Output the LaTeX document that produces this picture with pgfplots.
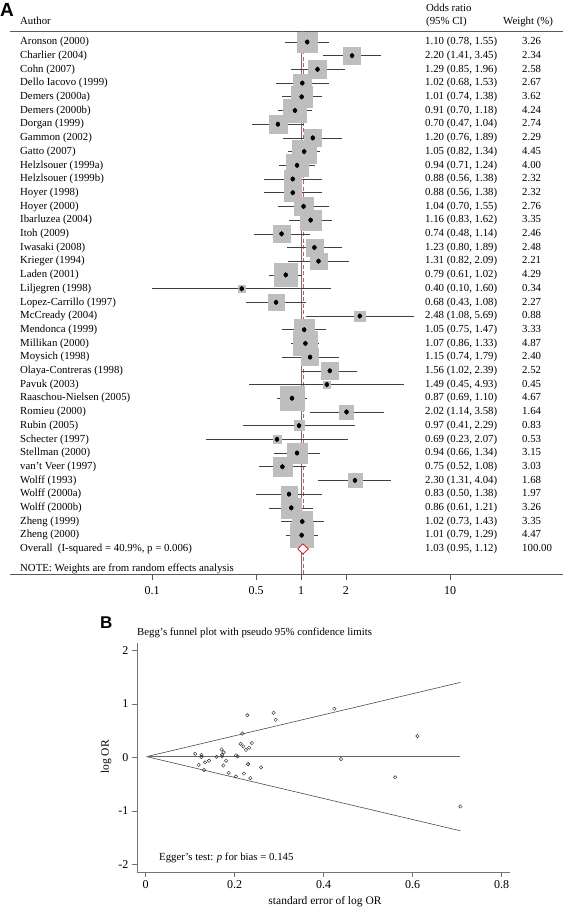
\documentclass[border=0pt]{standalone}
\usepackage{pgfplots}
\pgfplotsset{compat=1.18}
\usepackage{pgfplotstable}
\usepackage{fontspec}
\setmainfont{Liberation Serif}
\newfontfamily\lsans{Liberation Sans}
\definecolor{sqgray}{RGB}{190,190,190}
\definecolor{ovred}{RGB}{215,40,40}
\definecolor{dashred}{RGB}{200,90,90}
\newcommand\ft{\fontsize{10.8bp}{12bp}\selectfont}

\pgfplotstableread{
r or lo hi w
1 1.10 0.78 1.55 3.26
2 2.20 1.41 3.45 2.34
3 1.29 0.85 1.96 2.58
4 1.02 0.68 1.53 2.67
5 1.01 0.74 1.38 3.62
6 0.91 0.70 1.18 4.24
7 0.70 0.47 1.04 2.74
8 1.20 0.76 1.89 2.29
9 1.05 0.82 1.34 4.45
10 0.94 0.71 1.24 4.00
11 0.88 0.56 1.38 2.32
12 0.88 0.56 1.38 2.32
13 1.04 0.70 1.55 2.76
14 1.16 0.83 1.62 3.35
15 0.74 0.48 1.14 2.46
16 1.23 0.80 1.89 2.48
17 1.31 0.82 2.09 2.21
18 0.79 0.61 1.02 4.29
19 0.40 0.10 1.60 0.34
20 0.68 0.43 1.08 2.27
21 2.48 1.08 5.69 0.88
22 1.05 0.75 1.47 3.33
23 1.07 0.86 1.33 4.87
24 1.15 0.74 1.79 2.40
25 1.56 1.02 2.39 2.52
26 1.49 0.45 4.93 0.45
27 0.87 0.69 1.10 4.67
28 2.02 1.14 3.58 1.64
29 0.97 0.41 2.29 0.83
30 0.69 0.23 2.07 0.53
31 0.94 0.66 1.34 3.15
32 0.75 0.52 1.08 3.03
33 2.30 1.31 4.04 1.68
34 0.83 0.50 1.38 1.97
35 0.86 0.61 1.21 3.26
36 1.02 0.73 1.43 3.35
37 1.01 0.79 1.29 4.47
}\forestdata

\pgfplotstableread{
se lor
0.1752 0.0953
0.2283 0.7885
0.2131 0.2546
0.2069 0.0198
0.1590 0.0100
0.1332 -0.0943
0.2026 -0.3567
0.2324 0.1823
0.1253 0.0488
0.1422 -0.0619
0.2301 -0.1278
0.2301 -0.1278
0.2028 0.0392
0.1706 0.1484
0.2207 -0.3011
0.2193 0.2070
0.2387 0.2700
0.1311 -0.2357
0.7073 -0.9163
0.2349 -0.3857
0.4239 0.9083
0.1717 0.0488
0.1112 0.0677
0.2253 0.1398
0.2172 0.4447
0.6107 0.3988
0.1190 -0.1393
0.2919 0.7031
0.4388 -0.0305
0.5605 -0.3711
0.1807 -0.0619
0.1865 -0.2877
0.2873 0.8329
0.2590 -0.1863
0.1747 -0.1508
0.1715 0.0198
0.1251 0.0100
}\funneldata

\begin{document}
\begin{tikzpicture}
\path[use as bounding box] (0,0) rectangle (566bp,908bp);

% ---------------- Panel A: forest plot ----------------
\begin{axis}[
  at={(10bp,334bp)}, anchor=south west,
  scale only axis, width=553bp, height=543bp,
  xmode=log, log basis x=10,
  xmin=0.01114, xmax=57.3,
  ymin=-39.83, ymax=-0.197,
  clip=false,
  axis x line=bottom, axis y line=none,
  axis line style={-, black!65, line width=0.6bp},
  xtick={0.1,0.5,1,2,10}, xticklabels={0.1,0.5,1,2,10},
  xminorticks=false, ytick=\empty,
  tick align=outside, major tick length=6bp,
  tick style={black!65, line width=0.6bp},
  xticklabel style={font=\fontsize{12bp}{12bp}\selectfont, yshift=-3bp},
]
% header rule
\addplot[black!65, line width=0.6bp] coordinates {(0.01114,-0.197) (57.3,-0.197)};
% null line
\addplot[black!55, line width=0.7bp] coordinates {(1,-0.197) (1,-39.83)};
% overall dashed line
\addplot[dashred, line width=0.7bp, dash pattern=on 4bp off 2.5bp] coordinates {(1.03,-0.197) (1.03,-39.83)};
% weight squares
\addplot[scatter, only marks, mark=square*,
  scatter/use mapped color={draw=sqgray, fill=sqgray},
  visualization depends on={5.54*sqrt(\thisrow{w}) \as \msz},
  scatter/@pre marker code/.append style={/tikz/mark size=\msz}]
  table[x=or, y expr=-\thisrow{r}] {\forestdata};
% confidence intervals
\addplot[only marks, mark=none,
  error bars/.cd, x dir=both, x explicit,
  error mark=none,
  error bar style={black!75, line width=0.6bp, solid}]
  table[x=or, y expr=-\thisrow{r},
        x error plus expr=\thisrow{hi}-\thisrow{or},
        x error minus expr=\thisrow{or}-\thisrow{lo}] {\forestdata};
% point estimates
\addplot[only marks, mark=diamond*, mark size=2.4bp, black]
  table[x=or, y expr=-\thisrow{r}] {\forestdata};
\end{axis}

% overlay axis (same geometry): overall diamond on top of the squares
\begin{axis}[
  at={(10bp,334bp)}, anchor=south west,
  scale only axis, width=553bp, height=543bp,
  xmode=log, log basis x=10,
  xmin=0.01114, xmax=57.3,
  ymin=-39.83, ymax=-0.197,
  clip=false, hide axis]
\addplot[ovred, fill=white, line width=0.9bp, line join=miter]
  coordinates {(0.95,-38) (1.03,-37.635) (1.12,-38) (1.03,-38.365) (0.95,-38)};
\end{axis}

% ---------------- Panel B: funnel plot ----------------
\begin{axis}[
  at={(137bp,36bp)}, anchor=south west,
  scale only axis, width=373bp, height=229bp,
  xmin=-0.0196, xmax=0.8187,
  ymin=-2.14, ymax=2.137,
  axis x line=bottom, axis y line=left,
  axis line style={-, black!55, line width=0.6bp},
  xtick={0,0.2,0.4,0.6,0.8}, xticklabels={0,0.2,0.4,0.6,0.8},
  ytick={-2,-1,0,1,2}, yticklabels={-2,-1,0,1,2},
  tick align=outside, major tick length=5bp,
  tick style={black!55, line width=0.6bp},
  ticklabel style={font=\fontsize{12bp}{12bp}\selectfont},
  clip=false,
]
\addplot[black!70, line width=0.6bp] coordinates {(0.002,0.015) (0.7073,1.401)};
\addplot[black!70, line width=0.6bp] coordinates {(0.002,0.015) (0.7073,-1.371)};
\addplot[black!60, line width=0.6bp] coordinates {(0.002,0.015) (0.7073,0.015)};
\addplot[only marks, mark=o, mark size=1.7bp, black!80, mark options={line width=0.45bp}]
  table[x=se, y=lor] {\funneldata};
\end{axis}

% ---------------- texts ----------------
\begin{scope}[x=1bp, y=1bp]
\node[anchor=north west, inner sep=0pt, font=\lsans\bfseries\fontsize{19bp}{19bp}\selectfont] at (0,905) {A};
\node[anchor=west, inner sep=0pt, font=\ft, text height=8bp, text depth=2.5bp] at (20,886) {Author};
\node[anchor=west, inner sep=0pt, font=\ft, text height=8bp, text depth=2.5bp] at (426,899) {Odds ratio};
\node[anchor=west, inner sep=0pt, font=\ft, text height=8bp, text depth=2.5bp] at (426,886) {(95\% CI)};
\node[anchor=west, inner sep=0pt, font=\ft, text height=8bp, text depth=2.5bp] at (503,886) {Weight (\%)};

\foreach \nm [count=\i] in {{Aronson (2000)},{Charlier (2004)},{Cohn (2007)},{Dello Iacovo (1999)},{Demers (2000a)},{Demers (2000b)},{Dorgan (1999)},{Gammon (2002)},{Gatto (2007)},{Helzlsouer (1999a)},{Helzlsouer (1999b)},{Hoyer (1998)},{Hoyer (2000)},{Ibarluzea (2004)},{Itoh (2009)},{Iwasaki (2008)},{Krieger (1994)},{Laden (2001)},{Liljegren (1998)},{Lopez-Carrillo (1997)},{McCready (2004)},{Mendonca (1999)},{Millikan (2000)},{Moysich (1998)},{Olaya-Contreras (1998)},{Pavuk (2003)},{Raaschou-Nielsen (2005)},{Romieu (2000)},{Rubin (2005)},{Schecter (1997)},{Stellman (2000)},{van't Veer (1997)},{Wolff (1993)},{Wolff (2000a)},{Wolff (2000b)},{Zheng (1999)},{Zheng (2000)},{Overall\ \ (I-squared = 40.9\%, p = 0.006)}}
  \node[anchor=west, inner sep=0pt, font=\ft, text height=8bp, text depth=2.5bp] at (20,{866-(\i-1)*13.7}) {\nm};

\foreach \ci [count=\i] in {{1.10 (0.78, 1.55)},{2.20 (1.41, 3.45)},{1.29 (0.85, 1.96)},{1.02 (0.68, 1.53)},{1.01 (0.74, 1.38)},{0.91 (0.70, 1.18)},{0.70 (0.47, 1.04)},{1.20 (0.76, 1.89)},{1.05 (0.82, 1.34)},{0.94 (0.71, 1.24)},{0.88 (0.56, 1.38)},{0.88 (0.56, 1.38)},{1.04 (0.70, 1.55)},{1.16 (0.83, 1.62)},{0.74 (0.48, 1.14)},{1.23 (0.80, 1.89)},{1.31 (0.82, 2.09)},{0.79 (0.61, 1.02)},{0.40 (0.10, 1.60)},{0.68 (0.43, 1.08)},{2.48 (1.08, 5.69)},{1.05 (0.75, 1.47)},{1.07 (0.86, 1.33)},{1.15 (0.74, 1.79)},{1.56 (1.02, 2.39)},{1.49 (0.45, 4.93)},{0.87 (0.69, 1.10)},{2.02 (1.14, 3.58)},{0.97 (0.41, 2.29)},{0.69 (0.23, 2.07)},{0.94 (0.66, 1.34)},{0.75 (0.52, 1.08)},{2.30 (1.31, 4.04)},{0.83 (0.50, 1.38)},{0.86 (0.61, 1.21)},{1.02 (0.73, 1.43)},{1.01 (0.79, 1.29)},{1.03 (0.95, 1.12)}}
  \node[anchor=west, inner sep=0pt, font=\ft, text height=8bp, text depth=2.5bp] at (425,{866-(\i-1)*13.7}) {\ci};

\foreach \wt [count=\i] in {3.26,2.34,2.58,2.67,3.62,4.24,2.74,2.29,4.45,4.00,2.32,2.32,2.76,3.35,2.46,2.48,2.21,4.29,0.34,2.27,0.88,3.33,4.87,2.40,2.52,0.45,4.67,1.64,0.83,0.53,3.15,3.03,1.68,1.97,3.26,3.35,4.47,100.00}
  \node[anchor=west, inner sep=0pt, font=\ft, text height=8bp, text depth=2.5bp] at (522,{866-(\i-1)*13.7}) {\wt};

\node[anchor=west, inner sep=0pt, font=\ft, text height=8bp, text depth=2.5bp] at (20,339) {NOTE: Weights are from random effects analysis};

% panel B texts
\node[anchor=north west, inner sep=0pt, font=\lsans\bfseries\fontsize{17bp}{17bp}\selectfont] at (100,291) {B};
\node[anchor=west, inner sep=0pt, font=\ft, text height=8bp, text depth=2.5bp] at (137,275) {Begg's funnel plot with pseudo 95\% confidence limits};
\node[anchor=west, inner sep=0pt, font=\ft, text height=8bp, text depth=2.5bp] at (159,50) {Egger's test: \textit{p} for bias = 0.145};
\node[rotate=90, inner sep=0pt, font=\fontsize{11.5bp}{12bp}\selectfont, text height=8bp, text depth=2.5bp] at (106,151) {log OR};
\node[inner sep=0pt, font=\fontsize{11.5bp}{12bp}\selectfont, text height=8bp, text depth=2.5bp] at (325,6) {standard error of log OR};
\end{scope}
\end{tikzpicture}
\end{document}
